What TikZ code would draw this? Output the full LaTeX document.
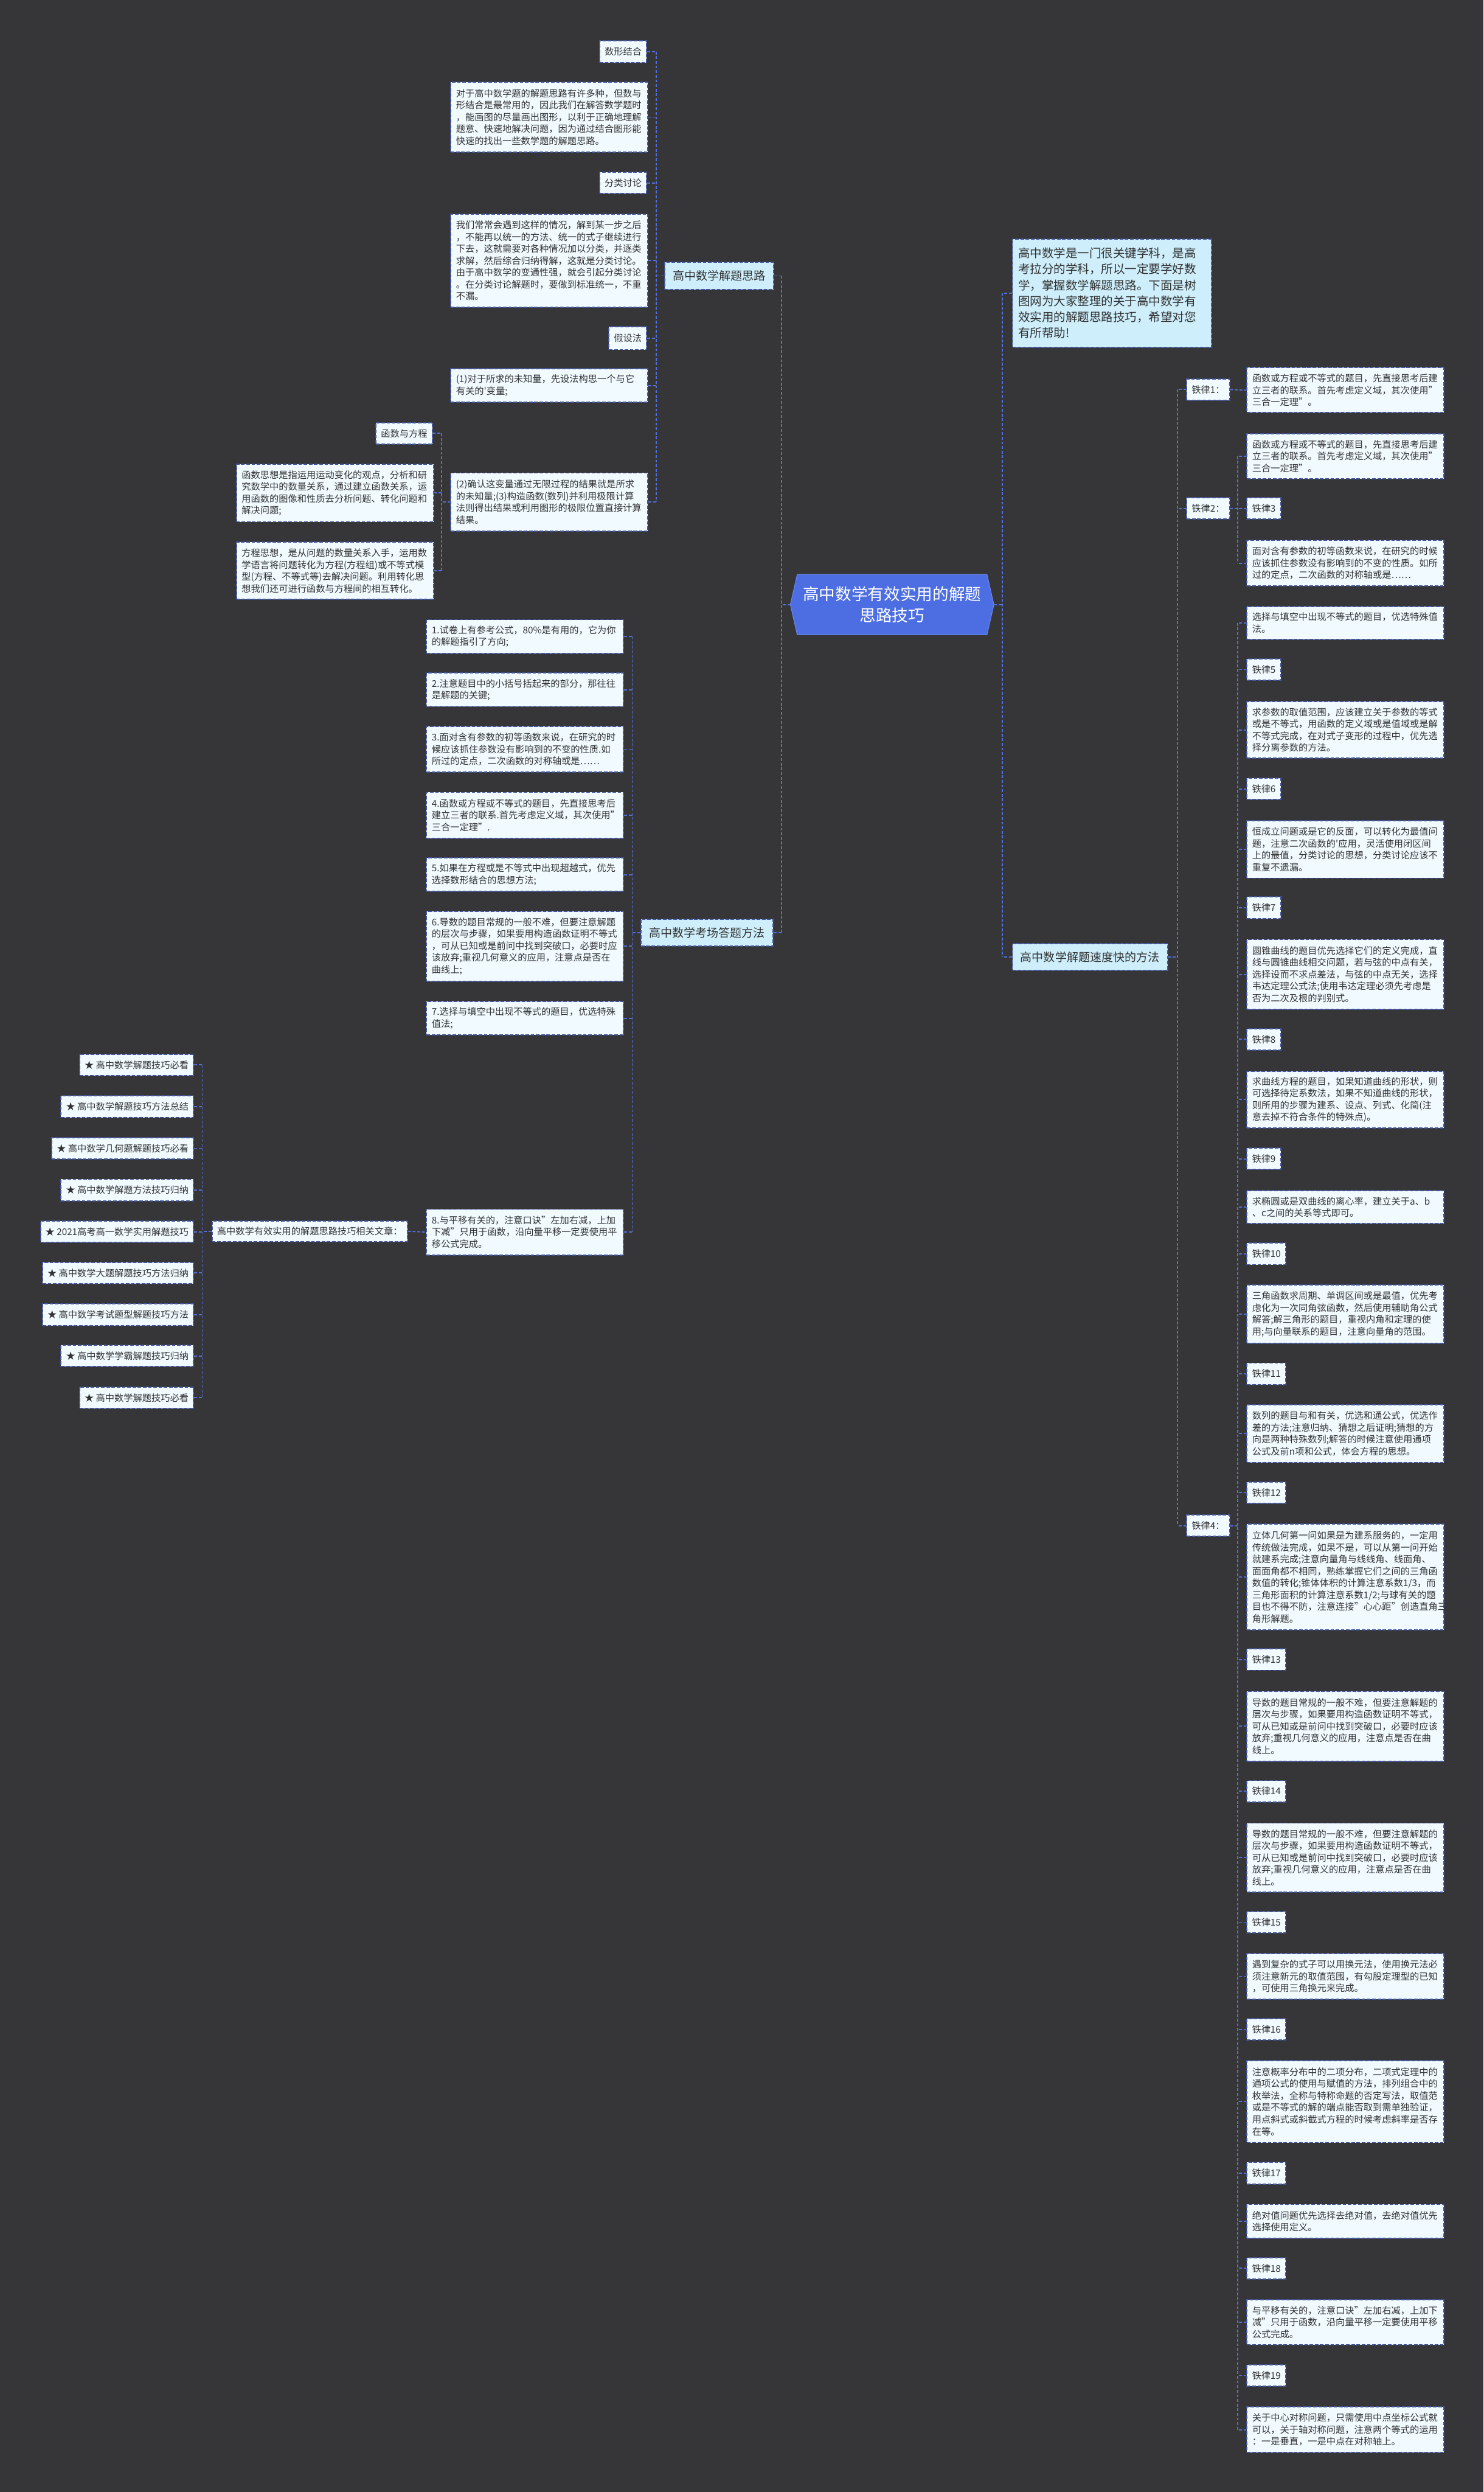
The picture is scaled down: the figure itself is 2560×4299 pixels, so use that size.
\documentclass[tikz,border=0pt]{standalone}
\usepackage{fontspec}
\setmainfont{Noto Sans CJK SC}
\usetikzlibrary{calc}
\pgfdeclarelayer{background}
\pgfsetlayers{background,main}
\definecolor{bgcol}{RGB}{54,53,55}
\definecolor{conncol}{RGB}{82,112,218}
\definecolor{bordcol}{RGB}{66,86,160}
\definecolor{leafcol}{RGB}{240,250,255}
\definecolor{lvlcol}{RGB}{205,238,250}
\definecolor{maincol}{RGB}{76,110,226}
\definecolor{txtcol}{RGB}{50,50,50}
\tikzset{
 conn/.style={draw=conncol, line width=2pt, dash pattern=on 5pt off 3pt},
 boxbase/.style={draw=bordcol, line width=2pt, dash pattern=on 6pt off 3pt, text=txtcol, font=\fontsize{16}{20.5}\selectfont, inner ysep=0pt},
 leaf/.style={boxbase, fill=leafcol, anchor=north west, text width=322pt, inner xsep=9pt, align=left},
 lab/.style={boxbase, fill=leafcol, inner xsep=8.5pt, minimum height=37pt},
 lvl/.style={boxbase, fill=lvlcol, font=\fontsize{20}{26}\selectfont, inner xsep=14pt, minimum height=47pt},
}
\begin{document}
\begin{tikzpicture}[x=1pt,y=-1pt]
\begin{pgfonlayer}{background}
\fill[bgcol] (0,0) rectangle (2560,4299);
\end{pgfonlayer}
\useasboundingbox (0,0) rectangle (2560,4299);

% ---------- main node ----------
\node[font=\fontsize{28}{37}\selectfont, text=white, align=center, minimum width=351pt, minimum height=104pt, inner sep=0pt] (main) at (1539.5,1043) {高中数学有效实用的解题\\思路技巧};
\begin{pgfonlayer}{background}
\filldraw[fill=maincol, draw=maincol!80!white, line width=1pt] (main.west) -- ([xshift=12pt]main.north west) -- ([xshift=-12pt]main.north east) -- (main.east) -- ([xshift=-12pt]main.south east) -- ([xshift=12pt]main.south west) -- cycle;
\end{pgfonlayer}

% ---------- level 1 ----------
\node[lvl, anchor=west] (jt) at (1146,476) {高中数学解题思路};
\node[lvl, anchor=east] (kc) at (1335,1609) {高中数学考场答题方法};
\node[lvl, anchor=west] (sd) at (1746,1651) {高中数学解题速度快的方法};
\node[boxbase, fill=lvlcol, anchor=north west, text width=324pt, inner xsep=10pt, minimum height=187pt, align=left, font=\fontsize{20.5}{27.5}\selectfont] (intro) at (1746,411) {高中数学是一门很关键学科，是高\\考拉分的学科，所以一定要学好数\\学，掌握数学解题思路。下面是树\\图网为大家整理的关于高中数学有\\效实用的解题思路技巧，希望对您\\有所帮助!};

% ---------- left top branch ----------
\node[lab, anchor=north east, minimum height=38pt] (szjh) at (1117,69) {数形结合};
\node[leaf, minimum height=120pt] (tsz) at (777,141) {对于高中数学题的解题思路有许多种，但数与\\形结合是最常用的，因此我们在解答数学题时\\，能画图的尽量画出图形，以利于正确地理解\\题意、快速地解决问题，因为通过结合图形能\\快速的找出一些数学题的解题思路。};
\node[lab, anchor=north east] (flt) at (1117,296) {分类讨论};
\node[leaf, minimum height=161pt] (tfl) at (777,368) {我们常常会遇到这样的情况，解到某一步之后\\，不能再以统一的方法、统一的式子继续进行\\下去，这就需要对各种情况加以分类，并逐类\\求解，然后综合归纳得解，这就是分类讨论。\\由于高中数学的变通性强，就会引起分类讨论\\。在分类讨论解题时，要做到标准统一，不重\\不漏。};
\node[lab, anchor=north east, minimum height=39pt] (jsf) at (1117,563) {假设法};
\node[leaf, minimum height=58pt] (tja) at (777,635) {(1)对于所求的未知量，先设法构思一个与它\\有关的\textquotesingle 变量;};
\node[leaf, minimum height=100pt] (tjb) at (777,815) {(2)确认这变量通过无限过程的结果就是所求\\的未知量;(3)构造函数(数列)并利用极限计算\\法则得出结果或利用图形的极限位置直接计算\\结果。};
\node[lab, anchor=north east] (hsfc) at (747,728) {函数与方程};
\node[leaf, minimum height=99pt] (ths) at (407,800) {函数思想是指运用运动变化的观点，分析和研\\究数学中的数量关系，通过建立函数关系，运\\用函数的图像和性质去分析问题、转化问题和\\解决问题;};
\node[leaf, minimum height=99pt] (tfc) at (407,934) {方程思想，是从问题的数量关系入手，运用数\\学语言将问题转化为方程(方程组)或不等式模\\型(方程、不等式等)去解决问题。利用转化思\\想我们还可进行函数与方程间的相互转化。};

% ---------- left lower branch ----------
\node[leaf, minimum height=58pt] (m1) at (735,1068) {1.试卷上有参考公式，80\%是有用的，它为你\\的解题指引了方向;};
\node[leaf, minimum height=58pt] (m2) at (735,1160) {2.注意题目中的小括号括起来的部分，那往往\\是解题的关键;};
\node[leaf, minimum height=79pt] (m3) at (735,1252) {3.面对含有参数的初等函数来说，在研究的时\\候应该抓住参数没有影响到的不变的性质.如\\所过的定点，二次函数的对称轴或是……};
\node[leaf, minimum height=79pt] (m4) at (735,1366) {4.函数或方程或不等式的题目，先直接思考后\\建立三者的联系.首先考虑定义域，其次使用"\\三合一定理".};
\node[leaf, minimum height=58pt] (m5) at (735,1479) {5.如果在方程或是不等式中出现超越式，优先\\选择数形结合的思想方法;};
\node[leaf, minimum height=121pt] (m6) at (735,1571) {6.导数的题目常规的一般不难，但要注意解题\\的层次与步骤，如果要用构造函数证明不等式\\，可从已知或是前问中找到突破口，必要时应\\该放弃;重视几何意义的应用，注意点是否在\\曲线上;};
\node[leaf, minimum height=57pt] (m7) at (735,1727) {7.选择与填空中出现不等式的题目，优选特殊\\值法;};
\node[leaf, minimum height=79pt] (m8) at (735,2085) {8.与平移有关的，注意口诀"左加右减，上加\\下减"只用于函数，沿向量平移一定要使用平\\移公式完成。};
\node[lab, anchor=west, minimum height=36pt] (wz) at (365,2124) {高中数学有效实用的解题思路技巧相关文章：};

\node[lab, anchor=east] (s1) at (335,1837) {★ 高中数学解题技巧必看};
\node[lab, anchor=east] (s2) at (335,1909) {★ 高中数学解题技巧方法总结};
\node[lab, anchor=east] (s3) at (335,1981) {★ 高中数学几何题解题技巧必看};
\node[lab, anchor=east] (s4) at (335,2053) {★ 高中数学解题方法技巧归纳};
\node[lab, anchor=east] (s5) at (335,2125) {★ 2021高考高一数学实用解题技巧};
\node[lab, anchor=east] (s6) at (335,2196) {★ 高中数学大题解题技巧方法归纳};
\node[lab, anchor=east] (s7) at (335,2268) {★ 高中数学考试题型解题技巧方法};
\node[lab, anchor=east] (s8) at (335,2339) {★ 高中数学学霸解题技巧归纳};
\node[lab, anchor=east] (s9) at (335,2411) {★ 高中数学解题技巧必看};

% ---------- right branch ----------
\node[lab, anchor=west] (t1) at (2047,672) {铁律1：};
\node[leaf, minimum height=78pt] (t1x) at (2151,633) {函数或方程或不等式的题目，先直接思考后建\\立三者的联系。首先考虑定义域，其次使用"\\三合一定理"。};
\node[lab, anchor=west] (t2) at (2047,877) {铁律2：};
\node[leaf, minimum height=78pt] (t2a) at (2151,747) {函数或方程或不等式的题目，先直接思考后建\\立三者的联系。首先考虑定义域，其次使用"\\三合一定理"。};
\node[lab, anchor=west] (l3) at (2151,877) {铁律3};
\node[leaf, minimum height=79pt] (t2b) at (2151,931) {面对含有参数的初等函数来说，在研究的时候\\应该抓住参数没有影响到的不变的性质。如所\\过的定点，二次函数的对称轴或是……};
\node[lab, anchor=west] (t4) at (2047,2632) {铁律4：};
\node[leaf, minimum height=57pt] (t4a) at (2151,1045) {选择与填空中出现不等式的题目，优选特殊值\\法。};
\node[lab, anchor=west] (l5) at (2151,1155) {铁律5};
\node[leaf, minimum height=98pt] (x5) at (2151,1209) {求参数的取值范围，应该建立关于参数的等式\\或是不等式，用函数的定义域或是值域或是解\\不等式完成，在对式子变形的过程中，优先选\\择分离参数的方法。};
\node[lab, anchor=west] (l6) at (2151,1361) {铁律6};
\node[leaf, minimum height=99pt] (x6) at (2151,1415) {恒成立问题或是它的反面，可以转化为最值问\\题，注意二次函数的\textquotesingle 应用，灵活使用闭区间\\上的最值，分类讨论的思想，分类讨论应该不\\重复不遗漏。};
\node[lab, anchor=west] (l7) at (2151,1566) {铁律7};
\node[leaf, minimum height=120pt] (x7) at (2151,1620) {圆锥曲线的题目优先选择它们的定义完成，直\\线与圆锥曲线相交问题，若与弦的中点有关，\\选择设而不求点差法，与弦的中点无关，选择\\韦达定理公式法;使用韦达定理必须先考虑是\\否为二次及根的判别式。};
\node[lab, anchor=west] (l8) at (2151,1793) {铁律8};
\node[leaf, minimum height=98pt] (x8) at (2151,1847) {求曲线方程的题目，如果知道曲线的形状，则\\可选择待定系数法，如果不知道曲线的形状，\\则所用的步骤为建系、设点、列式、化简(注\\意去掉不符合条件的特殊点)。};
\node[lab, anchor=west] (l9) at (2151,1999) {铁律9};
\node[leaf, minimum height=57pt] (x9) at (2151,2053) {求椭圆或是双曲线的离心率，建立关于a、b\\、c之间的关系等式即可。};
\node[lab, anchor=west] (l10) at (2151,2163) {铁律10};
\node[leaf, minimum height=100pt] (x10) at (2151,2216) {三角函数求周期、单调区间或是最值，优先考\\虑化为一次同角弦函数，然后使用辅助角公式\\解答;解三角形的题目，重视内角和定理的使\\用;与向量联系的题目，注意向量角的范围。};
\node[lab, anchor=west] (l11) at (2151,2370) {铁律11};
\node[leaf, minimum height=100pt] (x11) at (2151,2422) {数列的题目与和有关，优选和通公式，优选作\\差的方法;注意归纳、猜想之后证明;猜想的方\\向是两种特殊数列;解答的时候注意使用通项\\公式及前n项和公式，体会方程的思想。};
\node[lab, anchor=west] (l12) at (2151,2575) {铁律12};
\node[leaf, minimum height=183pt] (x12) at (2151,2628) {立体几何第一问如果是为建系服务的，一定用\\传统做法完成，如果不是，可以从第一问开始\\就建系完成;注意向量角与线线角、线面角、\\面面角都不相同，熟练掌握它们之间的三角函\\数值的转化;锥体体积的计算注意系数1/3，而\\三角形面积的计算注意系数1/2;与球有关的题\\目也不得不防，注意连接"心心距"创造直角三\\角形解题。};
\node[lab, anchor=west] (l13) at (2151,2863) {铁律13};
\node[leaf, minimum height=120pt] (x13) at (2151,2917) {导数的题目常规的一般不难，但要注意解题的\\层次与步骤，如果要用构造函数证明不等式，\\可从已知或是前问中找到突破口，必要时应该\\放弃;重视几何意义的应用，注意点是否在曲\\线上。};
\node[lab, anchor=west] (l14) at (2151,3090) {铁律14};
\node[leaf, minimum height=119pt] (x14) at (2151,3144) {导数的题目常规的一般不难，但要注意解题的\\层次与步骤，如果要用构造函数证明不等式，\\可从已知或是前问中找到突破口，必要时应该\\放弃;重视几何意义的应用，注意点是否在曲\\线上。};
\node[lab, anchor=west] (l15) at (2151,3316) {铁律15};
\node[leaf, minimum height=79pt] (x15) at (2151,3369) {遇到复杂的式子可以用换元法，使用换元法必\\须注意新元的取值范围，有勾股定理型的已知\\，可使用三角换元来完成。};
\node[lab, anchor=west] (l16) at (2151,3501) {铁律16};
\node[leaf, minimum height=141pt] (x16) at (2151,3554) {注意概率分布中的二项分布，二项式定理中的\\通项公式的使用与赋值的方法，排列组合中的\\枚举法，全称与特称命题的否定写法，取值范\\或是不等式的解的端点能否取到需单独验证，\\用点斜式或斜截式方程的时候考虑斜率是否存\\在等。};
\node[lab, anchor=west] (l17) at (2151,3749) {铁律17};
\node[leaf, minimum height=58pt] (x17) at (2151,3802) {绝对值问题优先选择去绝对值，去绝对值优先\\选择使用定义。};
\node[lab, anchor=west] (l18) at (2151,3913) {铁律18};
\node[leaf, minimum height=78pt] (x18) at (2151,3966) {与平移有关的，注意口诀"左加右减，上加下\\减"只用于函数，沿向量平移一定要使用平移\\公式完成。};
\node[lab, anchor=west] (l19) at (2151,4098) {铁律19};
\node[leaf, minimum height=79pt] (x19) at (2151,4151) {关于中心对称问题，只需使用中点坐标公式就\\可以，关于轴对称问题，注意两个等式的运用\\：一是垂直，一是中点在对称轴上。};

% ---------- bus coordinates ----------
\coordinate (bJ) at (1132,0);
\coordinate (bF) at (762,0);
\coordinate (bM) at (1349,0);
\coordinate (bK) at (1091,0);
\coordinate (bS) at (350,0);
\coordinate (bR) at (1730,0);
\coordinate (bD) at (2032,0);
\coordinate (bT) at (2136,0);

% ---------- connectors ----------
\draw[conn] (main.west) -- (main.west -| bM);
\draw[conn] (jt.east -| bM) -- (kc.east -| bM);
\draw[conn] (jt.east) -- (jt.east -| bM);
\draw[conn] (kc.east) -- (kc.east -| bM);

\draw[conn] (szjh.east -| bJ) -- (tjb.east -| bJ);
\foreach \n in {szjh,tsz,flt,tfl,jsf,tja,tjb} \draw[conn] (\n.east) -- (\n.east -| bJ);
\draw[conn] (jt.west) -- (jt.west -| bJ);

\draw[conn] (hsfc.east -| bF) -- (tfc.east -| bF);
\foreach \n in {hsfc,ths,tfc} \draw[conn] (\n.east) -- (\n.east -| bF);
\draw[conn] (tjb.west) -- (tjb.west -| bF);

\draw[conn] (m1.east -| bK) -- (m8.east -| bK);
\foreach \n in {m1,m2,m3,m4,m5,m6,m7,m8} \draw[conn] (\n.east) -- (\n.east -| bK);
\draw[conn] (kc.west) -- (kc.west -| bK);
\draw[conn] (wz.east) -- (m8.west);

\draw[conn] (s1.east -| bS) -- (s9.east -| bS);
\foreach \n in {s1,s2,s3,s4,s5,s6,s7,s8,s9} \draw[conn] (\n.east) -- (\n.east -| bS);
\draw[conn] (wz.west) -- (wz.west -| bS);

\draw[conn] (main.east) -- (main.east -| bR);
\draw[conn] (intro.west -| bR) -- (sd.west -| bR);
\draw[conn] (intro.west) -- (intro.west -| bR);
\draw[conn] (sd.west) -- (sd.west -| bR);

\draw[conn] (t1.west -| bD) -- (t4.west -| bD);
\foreach \n in {t1,t2,t4} \draw[conn] (\n.west) -- (\n.west -| bD);
\draw[conn] (sd.east) -- (sd.east -| bD);
\draw[conn] (t1.east) -- (t1x.west);

\draw[conn] (t2a.west -| bT) -- (t2b.west -| bT);
\foreach \n in {t2a,l3,t2b} \draw[conn] (\n.west) -- (\n.west -| bT);
\draw[conn] (t2.east) -- (t2.east -| bT);

\draw[conn] (t4a.west -| bT) -- (x19.west -| bT);
\foreach \n in {t4a,l5,x5,l6,x6,l7,x7,l8,x8,l9,x9,l10,x10,l11,x11,l12,x12,l13,x13,l14,x14,l15,x15,l16,x16,l17,x17,l18,x18,l19,x19} \draw[conn] (\n.west) -- (\n.west -| bT);
\draw[conn] (t4.east) -- (t4.east -| bT);
\end{tikzpicture}
\end{document}
